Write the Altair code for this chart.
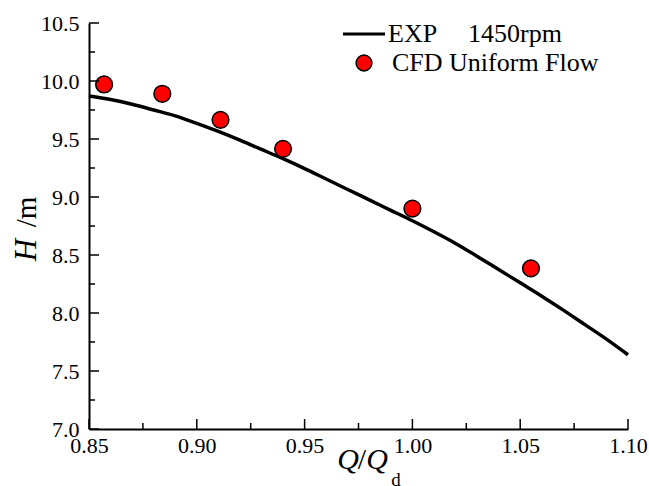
import altair as alt
import pandas as pd

# EXP curve (1450 rpm)
exp_q = [0.85, 0.86, 0.87, 0.88, 0.89, 0.90, 0.91, 0.92, 0.93, 0.94, 0.95, 0.96, 0.97,
         0.98, 0.99, 1.00, 1.01, 1.02, 1.03, 1.04, 1.05, 1.06, 1.07, 1.08, 1.09, 1.10]
exp_h = [9.87, 9.84, 9.80, 9.75, 9.70, 9.635, 9.565, 9.49, 9.41, 9.33, 9.245, 9.155, 9.065,
         8.975, 8.885, 8.795, 8.70, 8.60, 8.49, 8.375, 8.26, 8.145, 8.025, 7.90, 7.775, 7.64]

# CFD uniform flow points
cfd_q = [0.857, 0.884, 0.911, 0.940, 1.000, 1.055]
cfd_h = [9.97, 9.89, 9.665, 9.415, 8.90, 8.385]

x_major = [0.85, 0.90, 0.95, 1.00, 1.05, 1.10]
x_minor = [0.875, 0.925, 0.975, 1.025, 1.075]
y_major = [7.0, 7.5, 8.0, 8.5, 9.0, 9.5, 10.0, 10.5]
y_minor = [7.25, 7.75, 8.25, 8.75, 9.25, 9.75, 10.25]

W, H = 539, 406
FONT = "Liberation Serif"

xs = alt.Scale(domain=[0.85, 1.10], nice=False, zero=False)
ys = alt.Scale(domain=[7.0, 10.5], nice=False, zero=False)

exp_df = pd.DataFrame({"q": exp_q, "h": exp_h})
cfd_df = pd.DataFrame({"q": cfd_q, "h": cfd_h})

xaxis = alt.Axis(values=x_major, format=".2f", title=None, grid=False, ticks=False,
                 labelPadding=6, labelFont=FONT, labelFontSize=22)
yaxis = alt.Axis(values=y_major, format=".1f", title=None, grid=False, ticks=False,
                 labelPadding=10, labelFont=FONT, labelFontSize=22)

line = alt.Chart(exp_df).mark_line(color="black", strokeWidth=3.5,
                                   interpolate="monotone").encode(
    x=alt.X("q:Q", scale=xs, axis=xaxis),
    y=alt.Y("h:Q", scale=ys, axis=yaxis),
)

pts = alt.Chart(cfd_df).mark_point(shape="circle", filled=True, fill="#ff0000",
                                   stroke="black", strokeWidth=1.5, size=280,
                                   opacity=1).encode(
    x=alt.X("q:Q", scale=xs),
    y=alt.Y("h:Q", scale=ys),
)

# inward ticks
xt_major = alt.Chart(pd.DataFrame({"q": x_major})).mark_rule(color="black", strokeWidth=1.5).encode(
    x=alt.X("q:Q", scale=xs), y=alt.value(H), y2=alt.value(H - 10))
xt_minor = alt.Chart(pd.DataFrame({"q": x_minor})).mark_rule(color="black", strokeWidth=1.5).encode(
    x=alt.X("q:Q", scale=xs), y=alt.value(H), y2=alt.value(H - 6))
yt_major = alt.Chart(pd.DataFrame({"h": y_major})).mark_rule(color="black", strokeWidth=1.5).encode(
    y=alt.Y("h:Q", scale=ys), x=alt.value(0), x2=alt.value(10))
yt_minor = alt.Chart(pd.DataFrame({"h": y_minor})).mark_rule(color="black", strokeWidth=1.5).encode(
    y=alt.Y("h:Q", scale=ys), x=alt.value(0), x2=alt.value(6))

one = pd.DataFrame({"a": [0]})

def txt(s, x, y, size=21, style="normal", align="left", angle=0, baseline="middle"):
    kw = dict(font=FONT, fontSize=size, fontStyle=style, color="black", align=align,
              baseline=baseline)
    if angle:
        kw["angle"] = angle
    return alt.Chart(one).mark_text(**kw).encode(
        x=alt.value(x), y=alt.value(y), text=alt.value(s))

# axis titles
xt1 = txt("Q", 259, 446, size=30, style="italic", align="center", baseline="alphabetic")
xt2 = txt("/", 273, 446, size=30, align="center", baseline="alphabetic")
xt3 = txt("Q", 288, 446, size=30, style="italic", align="center", baseline="alphabetic")
xt4 = txt("d", 307, 463, size=19, align="center", baseline="alphabetic")
yt1 = txt("H", -62, 227, size=31, style="italic", align="center", angle=270)
yt2 = txt("/m", -62, 189, size=29, align="center", angle=270)

# legend
leg_line = alt.Chart(one).mark_rule(color="black", strokeWidth=3).encode(
    x=alt.value(254), x2=alt.value(296), y=alt.value(11))
leg_t1 = txt("EXP", 299, 11, size=26)
leg_t2 = txt("1450rpm", 379, 11, size=26)
leg_pt = alt.Chart(one).mark_point(shape="circle", filled=True, fill="#ff0000",
                                   stroke="black", strokeWidth=1.5, size=250,
                                   opacity=1).encode(x=alt.value(275), y=alt.value(40))
leg_t3 = txt("CFD Uniform Flow", 303, 40, size=26)

chart = alt.layer(
    line, pts, xt_major, xt_minor, yt_major, yt_minor,
    xt1, xt2, xt3, xt4, yt1, yt2, leg_line, leg_t1, leg_t2, leg_pt, leg_t3,
).properties(
    width=W, height=H,
    autosize=alt.AutoSizeParams(type="none"),
    padding={"left": 89, "top": 23, "right": 21, "bottom": 57},
    background="white",
).configure(font=FONT).configure_view(stroke=None).configure_axis(
    labelFont=FONT, labelFontSize=22, labelColor="black",
    domainColor="black", domainWidth=2, labelOverlap=False, labelFlush=False,
    grid=False, ticks=False,
)

chart.save("out.html", embed_options={"renderer": "svg", "actions": False})
